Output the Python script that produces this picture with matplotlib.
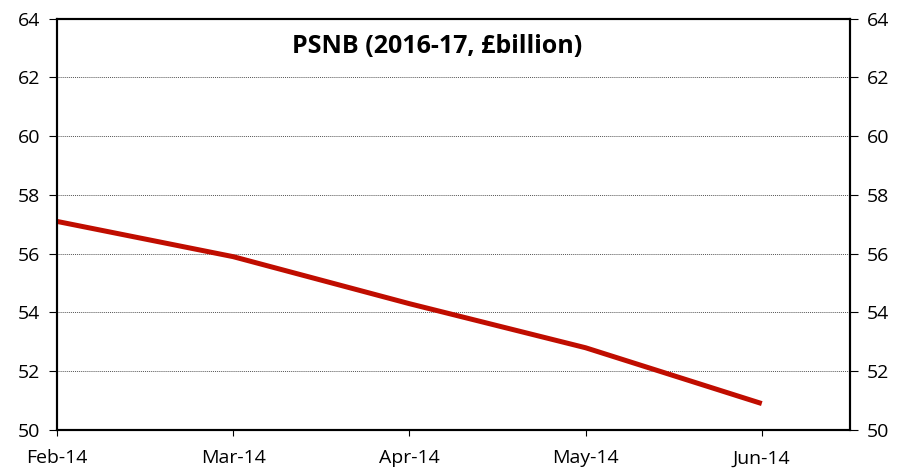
import matplotlib
matplotlib.use('Agg')
import matplotlib.pyplot as plt

# Data
months = ['Feb-14', 'Mar-14', 'Apr-14', 'May-14', 'Jun-14']
psnb = [57.1, 55.9, 54.3, 52.8, 50.9]
y_ticks = [50, 52, 54, 56, 58, 60, 62, 64]

plt.rcParams['font.family'] = ['Open Sans', 'DejaVu Sans']

fig = plt.figure(figsize=(9, 4.75), dpi=100)
ax = fig.add_axes([0.0633, 0.0947, 0.881, 0.866])

x = list(range(len(months)))
ax.plot(x, psnb, color='#c00d00', linewidth=3.6, solid_capstyle='butt', zorder=3)

ax.set_xlim(0, 4.5)
ax.set_ylim(50, 64)
ax.set_xticks(x)
ax.set_xticklabels(months)
ax.set_yticks(y_ticks)
ax.yaxis.grid(True, linestyle=(0, (1, 1)), color='#555555', linewidth=0.7)
ax.tick_params(axis='y', direction='out', length=6, width=0.8, labelsize=14, pad=6)
ax.tick_params(axis='x', direction='out', length=4, width=0.8, labelsize=14, pad=10)
for s in ax.spines.values():
    s.set_linewidth(1.5)

ax2 = ax.twinx()
ax2.set_ylim(50, 64)
ax2.set_yticks(y_ticks)
ax2.tick_params(axis='y', direction='out', length=6, width=0.8, labelsize=14, pad=6)
for s in ax2.spines.values():
    s.set_linewidth(1.5)

ax.text(0.48, 0.932, 'PSNB (2016-17, \u00a3billion)', transform=ax.transAxes,
        ha='center', va='center', fontsize=18, fontweight='bold')

fig.savefig('out.png', dpi=100)
